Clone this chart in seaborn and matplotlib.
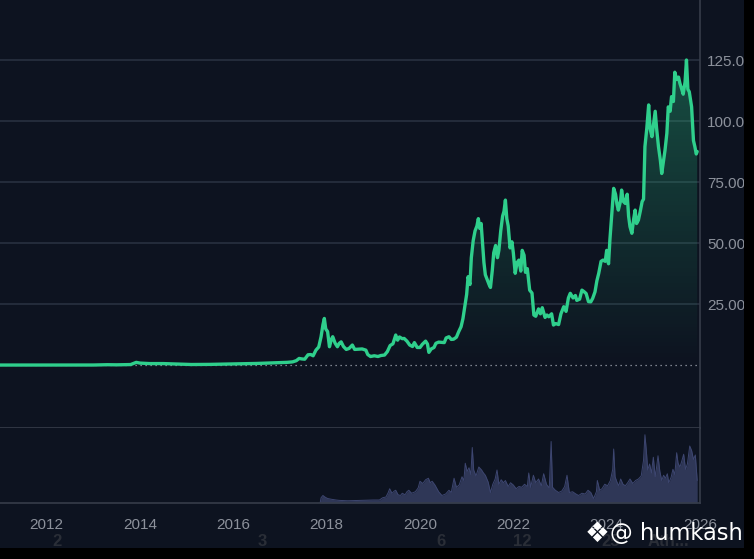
import numpy as np
import pandas as pd
import matplotlib
matplotlib.use("Agg")
import matplotlib.pyplot as plt
import seaborn as sns
from matplotlib.colors import LinearSegmentedColormap
from matplotlib.patches import PathPatch, Rectangle

# price in thousands of USD, time in decimal years
price_years = [
    2011.00, 2011.45, 2011.90, 2012.50, 2013.00, 2013.30, 2013.50, 2013.80, 2013.92, 2014.00,
    2014.20, 2014.50, 2014.90, 2015.10, 2015.50, 2015.90, 2016.50, 2016.90, 2017.00, 2017.15,
    2017.27, 2017.35, 2017.41, 2017.47, 2017.53, 2017.60, 2017.66, 2017.71, 2017.77, 2017.83,
    2017.88, 2017.92, 2017.95, 2017.98, 2018.02, 2018.06, 2018.10, 2018.13, 2018.18, 2018.23,
    2018.27, 2018.31, 2018.36, 2018.42, 2018.48, 2018.55, 2018.60, 2018.68, 2018.76, 2018.84,
    2018.88, 2018.94, 2019.02, 2019.10, 2019.16, 2019.24, 2019.30, 2019.36, 2019.42, 2019.48,
    2019.52, 2019.56, 2019.62, 2019.66, 2019.72, 2019.78, 2019.84, 2019.88, 2019.94, 2020.00,
    2020.05, 2020.12, 2020.16, 2020.19, 2020.24, 2020.30, 2020.34, 2020.40, 2020.46, 2020.52,
    2020.56, 2020.62, 2020.67, 2020.72, 2020.78, 2020.83, 2020.88, 2020.92, 2020.96, 2021.00,
    2021.03, 2021.07, 2021.10, 2021.14, 2021.18, 2021.22, 2021.25, 2021.28, 2021.31, 2021.34,
    2021.37, 2021.40, 2021.44, 2021.48, 2021.51, 2021.55, 2021.58, 2021.62, 2021.66, 2021.69,
    2021.73, 2021.77, 2021.80, 2021.83, 2021.86, 2021.89, 2021.93, 2021.97, 2022.00, 2022.04,
    2022.08, 2022.12, 2022.16, 2022.19, 2022.23, 2022.26, 2022.30, 2022.35, 2022.40, 2022.44,
    2022.48, 2022.54, 2022.58, 2022.62, 2022.68, 2022.72, 2022.76, 2022.82, 2022.86, 2022.91,
    2022.97, 2023.02, 2023.08, 2023.13, 2023.18, 2023.22, 2023.28, 2023.33, 2023.36, 2023.42,
    2023.47, 2023.52, 2023.56, 2023.61, 2023.66, 2023.70, 2023.75, 2023.79, 2023.83, 2023.88,
    2023.92, 2023.97, 2024.00, 2024.04, 2024.07, 2024.11, 2024.15, 2024.19, 2024.22, 2024.25,
    2024.30, 2024.32, 2024.36, 2024.40, 2024.44, 2024.47, 2024.50, 2024.54, 2024.58, 2024.61,
    2024.64, 2024.68, 2024.72, 2024.76, 2024.79, 2024.82, 2024.86, 2024.90, 2024.93, 2024.97,
    2025.00, 2025.04, 2025.07, 2025.11, 2025.15, 2025.18, 2025.22, 2025.25, 2025.29, 2025.32,
    2025.36, 2025.39, 2025.43, 2025.46, 2025.50, 2025.54, 2025.57, 2025.61, 2025.64, 2025.68,
    2025.71, 2025.74, 2025.77, 2025.82, 2025.86, 2025.89, 2025.92, 2025.94,
]
price_k = [
    0.0003, 0.02, 0.003, 0.007, 0.013, 0.14, 0.09, 0.2, 1.1, 0.8,
    0.6, 0.6, 0.35, 0.22, 0.27, 0.43, 0.65, 0.9, 1.0, 1.1,
    1.3, 1.8, 2.7, 2.5, 2.4, 4.2, 4.3, 3.8, 6.1, 7.4,
    11.6, 16.5, 19.1, 14.8, 13.7, 7.5, 10.5, 11.6, 9.0, 7.5,
    8.9, 9.5, 7.6, 6.4, 6.8, 8.2, 6.4, 6.5, 6.6, 6.1,
    4.3, 3.5, 3.8, 3.5, 3.9, 4.1, 5.5, 8.0, 8.7, 12.3,
    10.2, 11.5, 10.8, 10.9, 9.8, 8.2, 7.6, 9.2, 7.2, 7.2,
    8.5, 9.8, 8.6, 5.2, 6.6, 7.2, 8.9, 9.4, 9.3, 9.2,
    11.1, 11.6, 10.5, 10.6, 11.4, 13.7, 15.7, 19.0, 23.9, 29.0,
    36.2, 33.0, 44.0, 51.0, 55.0, 57.0, 60.0, 56.0, 58.0, 50.0,
    42.0, 37.0, 35.0, 33.0, 31.8, 39.0, 46.0, 49.0, 44.0, 47.0,
    55.0, 61.0, 63.0, 67.6, 60.0, 57.0, 48.0, 50.5, 46.0, 37.6,
    42.0, 43.0, 38.5, 47.0, 45.0, 38.0, 39.5, 30.7, 29.5, 20.5,
    20.0, 23.0, 21.0, 23.5, 19.5, 20.5, 19.8, 21.0, 16.4, 17.0,
    16.6, 21.0, 23.9, 22.0, 27.5, 29.4, 27.5, 28.5, 26.5, 27.0,
    30.7, 30.0, 29.3, 26.0, 25.9, 27.3, 30.0, 34.5, 37.6, 42.5,
    43.0, 42.5, 47.0, 41.5, 51.5, 62.0, 72.4, 70.0, 66.0, 63.5,
    67.5, 71.7, 67.0, 66.2, 70.0, 61.0, 56.7, 54.0, 60.0, 63.5,
    58.0, 59.4, 63.0, 67.0, 68.0, 89.5, 97.0, 106.6, 97.0, 93.6,
    98.0, 104.0, 97.0, 89.5, 84.0, 78.5, 84.0, 88.0, 95.0, 105.8,
    104.0, 110.0, 108.0, 120.0, 117.0, 118.0, 115.4, 113.0, 111.0, 116.0,
    125.0, 113.0, 112.0, 105.8, 92.0, 89.5, 86.5, 87.5,
]

# traded volume, relative units (panel top = 100)
vol_years = [
    2017.86, 2017.88, 2017.92, 2017.96, 2018.02, 2018.10, 2018.20, 2018.27, 2018.45, 2018.70,
    2019.00, 2019.13, 2019.20, 2019.27, 2019.32, 2019.35, 2019.40, 2019.45, 2019.48, 2019.53,
    2019.58, 2019.62, 2019.68, 2019.72, 2019.76, 2019.82, 2019.90, 2019.96, 2020.00, 2020.06,
    2020.12, 2020.18, 2020.22, 2020.26, 2020.32, 2020.40, 2020.47, 2020.55, 2020.62, 2020.67,
    2020.73, 2020.78, 2020.84, 2020.90, 2020.94, 2020.97, 2021.01, 2021.05, 2021.09, 2021.12,
    2021.15, 2021.20, 2021.26, 2021.32, 2021.36, 2021.40, 2021.46, 2021.51, 2021.56, 2021.61,
    2021.65, 2021.69, 2021.74, 2021.79, 2021.83, 2021.89, 2021.94, 2022.00, 2022.06, 2022.12,
    2022.18, 2022.24, 2022.30, 2022.33, 2022.37, 2022.43, 2022.48, 2022.54, 2022.60, 2022.65,
    2022.71, 2022.77, 2022.81, 2022.84, 2022.90, 2022.97, 2023.04, 2023.10, 2023.15, 2023.20,
    2023.27, 2023.34, 2023.40, 2023.47, 2023.54, 2023.60, 2023.66, 2023.72, 2023.78, 2023.80,
    2023.85, 2023.90, 2023.96, 2024.02, 2024.08, 2024.13, 2024.15, 2024.18, 2024.22, 2024.26,
    2024.30, 2024.35, 2024.40, 2024.45, 2024.50, 2024.56, 2024.62, 2024.68, 2024.74, 2024.79,
    2024.82, 2024.85, 2024.88, 2024.92, 2024.96, 2025.00, 2025.04, 2025.07, 2025.10, 2025.14,
    2025.18, 2025.22, 2025.26, 2025.30, 2025.33, 2025.38, 2025.42, 2025.46, 2025.50, 2025.53,
    2025.57, 2025.61, 2025.65, 2025.69, 2025.73, 2025.78, 2025.82, 2025.86, 2025.90, 2025.94,
]
vol_values = [
    0, 7, 10, 8, 6, 5, 4, 3.5, 3, 3.5,
    4, 4, 7, 8, 14, 19, 13, 16, 17, 11,
    10, 13, 11, 15, 17, 13, 15, 20, 29, 26,
    31, 33, 27, 29, 24, 15, 10, 12, 17, 14,
    33, 21, 24, 35, 30, 53, 42, 47, 38, 74,
    44, 36, 48, 44, 40, 37, 28, 14, 25, 32,
    44, 25, 31, 27, 30, 22, 27, 24, 19, 22,
    21, 25, 22, 40, 21, 37, 27, 32, 23, 39,
    25, 20, 82, 21, 17, 14, 16, 22, 37, 14,
    15, 12, 10, 13, 12, 17, 14, 6, 15, 30,
    17, 19, 25, 23, 30, 45, 72, 35, 28, 23,
    32, 25, 23, 27, 32, 26, 30, 32, 36, 57,
    91, 70, 44, 52, 40, 61, 35, 48, 63, 42,
    30, 37, 33, 39, 27, 34, 45, 38, 67, 53,
    48, 56, 65, 45, 52, 76, 70, 58, 64, 30,
]

year_ticks = [2012, 2014, 2016, 2018, 2020, 2022, 2024, 2026]
price_ticks = [25, 50, 75, 100, 125]
price_labels = ["25.00K", "50.00K", "75.00K", "100.00K", "125.00K"]
faint_labels = ["2", "3", "6", "12", "25", "Ath..."]
faint_x = [57, 262, 441, 522, 611, 668]

BG = "#0d1320"
GRID = "#283040"
GREEN = "#2fcf8c"
TXT = "#8c919b"

sns.set_theme(style="dark", rc={"axes.facecolor": BG, "figure.facecolor": BG})
plt.rcParams["font.family"] = ["Liberation Sans", "DejaVu Sans"]

W, H = 754, 559
fig = plt.figure(figsize=(W / 100, H / 100), dpi=100)


def box(x0, y0, x1, y1):
    return [x0 / W, 1 - y1 / H, (x1 - x0) / W, (y1 - y0) / H]


ax = fig.add_axes(box(0, 0, 700, 428))
axv = fig.add_axes(box(0, 428, 700, 503), sharex=ax)

df = pd.DataFrame({"year": price_years, "price": price_k})
vol = pd.DataFrame({"year": vol_years, "volume": vol_values})

# gradient fill under the price line
poly = ax.fill_between(df["year"], df["price"], 0, color="none", lw=0)
clip = PathPatch(poly.get_paths()[0], transform=ax.transData, facecolor="none", edgecolor="none")
ax.add_patch(clip)
grad = np.linspace(0, 1, 256).reshape(-1, 1)
cmap = LinearSegmentedColormap.from_list("g", [(0.18, 0.81, 0.55, 0.0), (0.18, 0.81, 0.55, 0.33)])
im = ax.imshow(grad, cmap=cmap, extent=[2011, 2026.2, 0, 128], origin="lower", aspect="auto", zorder=1)
im.set_clip_path(clip)

sns.lineplot(data=df, x="year", y="price", ax=ax, color=GREEN, lw=2.4, zorder=3)
ax.axhline(0, color="#a0a6b0", lw=0.9, ls=(0, (1, 3)), zorder=2)

ax.set_xlim(2011.0, 2025.96)
ax.set_ylim(-25.8, 149.6)
ax.set_yticks(price_ticks)
ax.set_yticklabels(price_labels)
ax.yaxis.tick_right()
ax.tick_params(axis="y", length=0, pad=5, labelsize=11, labelcolor=TXT)
ax.tick_params(axis="x", length=0, labelbottom=False)
ax.grid(True, axis="y", color=GRID, lw=1.2)
ax.grid(False, axis="x")
ax.set_xlabel("")
ax.set_ylabel("")

axv.fill_between(vol["year"], vol["volume"], 0, color="#2f3757", lw=0)
sns.lineplot(data=vol, x="year", y="volume", ax=axv, color="#3d4670", lw=0.7)
axv.set_ylim(0, 100)
axv.set_yticks([])
axv.set_xticks(year_ticks)
axv.set_xticklabels([str(y) for y in year_ticks])
axv.tick_params(axis="x", length=0, pad=11, labelsize=11, labelcolor=TXT)
axv.set_xlabel("")
axv.set_ylabel("")
axv.grid(False)

for a in (ax, axv):
    for side in ("left", "top"):
        a.spines[side].set_visible(False)
    a.spines["right"].set_color("#363c4a")
    a.spines["bottom"].set_color("#363c4a")
    a.spines["right"].set_linewidth(1.2)
    a.spines["bottom"].set_linewidth(1.2)

for lab, xp in zip(faint_labels, faint_x):
    fig.text(xp / W, 1 - 541 / H, lab, ha="center", va="center", fontsize=12,
             color="#2a2e37", fontweight="bold", zorder=3)

# black border strips
fig.patches.append(Rectangle((0, 0), 1, 11 / H, transform=fig.transFigure,
                             facecolor="black", edgecolor="none", zorder=5))
fig.patches.append(Rectangle((744 / W, 0), 10 / W, 1, transform=fig.transFigure,
                             facecolor="black", edgecolor="none", zorder=5))

fig.text(597 / W, 1 - 534 / H, "\u2756", ha="center", va="center", fontsize=20,
         color="white", family=["DejaVu Sans"], zorder=6)
fig.text(610 / W, 1 - 533 / H, "@ humkash", ha="left", va="center", fontsize=16.3,
         color="white", family=["DejaVu Sans"], zorder=6)

fig.savefig("out.png", dpi=100, facecolor=BG)
